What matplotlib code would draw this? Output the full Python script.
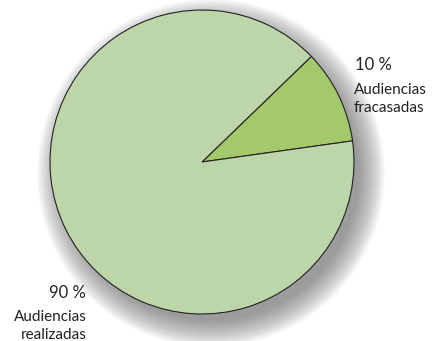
import matplotlib.pyplot as plt
from matplotlib.patches import Circle

# share of hearings
values = [10, 90]
colors = ["#a3c96b", "#bdd6a9"]
pct_labels = ["10 %", "90 %"]
names = [["Audiencias", "fracasadas"], ["Audiencias", "realizadas"]]

W, H = 433, 341
fig = plt.figure(figsize=(W / 100, H / 100), dpi=100)
ax = fig.add_axes([0, 0, 1, 1])

cx, cy, r = 202, 179, 152

# soft drop shadow (offset down-right)
for k in range(22, -6, -1):
    ax.add_patch(Circle((cx + 9, cy - 11), r + k, color="#666666",
                        alpha=0.032, lw=0, zorder=0))

ax.pie(values, colors=colors, startangle=8, center=(cx, cy), radius=r,
       wedgeprops=dict(edgecolor="#222222", linewidth=0.8),
       frame=True)
ax.set_xlim(0, W)
ax.set_ylim(0, H)
ax.set_aspect("equal")
ax.axis("off")

font = ["Lato", "DejaVu Sans"]
tc = "#222222"
ax.text(355, 276, pct_labels[0], fontsize=12, family=font, color=tc,
        ha="left", va="center")
ax.text(354, 251, names[0][0], fontsize=11, family=font, color=tc,
        ha="left", va="center")
ax.text(354, 233, names[0][1], fontsize=11, family=font, color=tc,
        ha="left", va="center")
ax.text(86, 48, pct_labels[1], fontsize=12, family=font, color=tc,
        ha="right", va="center")
ax.text(87, 24, names[1][0], fontsize=11, family=font, color=tc,
        ha="right", va="center")
ax.text(87, 6, names[1][1], fontsize=11, family=font, color=tc,
        ha="right", va="center")

fig.savefig("out.png", dpi=100)
